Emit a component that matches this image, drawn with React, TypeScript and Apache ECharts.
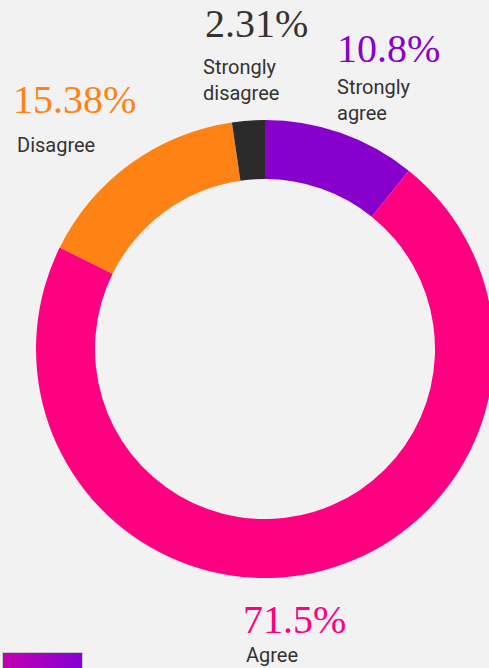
import React, { useEffect, useRef } from "react";
import * as echarts from "echarts";

const categories = ["Strongly agree", "Agree", "Disagree", "Strongly disagree"];
const nameLines = [["Strongly", "agree"], ["Agree"], ["Disagree"], ["Strongly", "disagree"]];
const values = [10.8, 71.5, 15.38, 2.31];
const percentLabels = ["10.8%", "71.5%", "15.38%", "2.31%"];
const colors = ["#8800cc", "#ff0080", "#ff8214", "#2b2b2b"];

// label anchor positions (left x, percent middle y, name first-line middle y)
const labelPos = [
  { x: 337, py: 48, nx: 337, ny: 87 },
  { x: 243, py: 619, nx: 246, ny: 655 },
  { x: 13, py: 99, nx: 17, ny: 145 },
  { x: 205, py: 23, nx: 203, ny: 67 },
];

export default function App() {
  const ref = useRef<HTMLDivElement>(null);
  useEffect(() => {
    document.body.style.margin = "0";
    document.body.style.background = "#f2f2f2";
    const chart = echarts.init(ref.current!, null, { renderer: "svg" });
    const graphics: any[] = [];
    categories.forEach((c, i) => {
      const p = labelPos[i];
      graphics.push({
        type: "text",
        x: p.x,
        y: p.py,
        style: {
          text: percentLabels[i],
          font: "40px 'Liberation Serif', 'DejaVu Serif', serif",
          fill: colors[i] === "#2b2b2b" ? "#333333" : colors[i],
          align: "left",
          verticalAlign: "middle",
        },
      });
      nameLines[i].forEach((ln, j) => {
        graphics.push({
          type: "text",
          x: p.nx,
          y: p.ny + j * 26,
          style: {
            text: ln,
            font: "400 20px Roboto, sans-serif",
            fill: "#333333",
            align: "left",
            verticalAlign: "middle",
          },
        });
      });
    });
    graphics.push({
      type: "rect",
      shape: { x: 2.5, y: 652.5, width: 80, height: 20 },
      style: {
        fill: new echarts.graphic.LinearGradient(0, 0, 1, 0, [
          { offset: 0, color: "#c400b0" },
          { offset: 1, color: "#8600d6" },
        ]),
        stroke: "#c8c8c8",
        lineWidth: 1,
      },
    });
    chart.setOption({
      animation: false,
      backgroundColor: "#f2f2f2",
      graphic: graphics,
      series: [
        {
          type: "pie",
          center: [265, 349],
          radius: [170, 229],
          startAngle: 90,
          clockwise: true,
          label: { show: false },
          labelLine: { show: false },
          emphasis: { disabled: true },
          data: categories.map((c, i) => ({
            name: c,
            value: values[i],
            itemStyle: { color: colors[i] },
          })),
        },
      ],
    });
    return () => chart.dispose();
  }, []);
  return <div ref={ref} style={{ width: 489, height: 668 }} />;
}
